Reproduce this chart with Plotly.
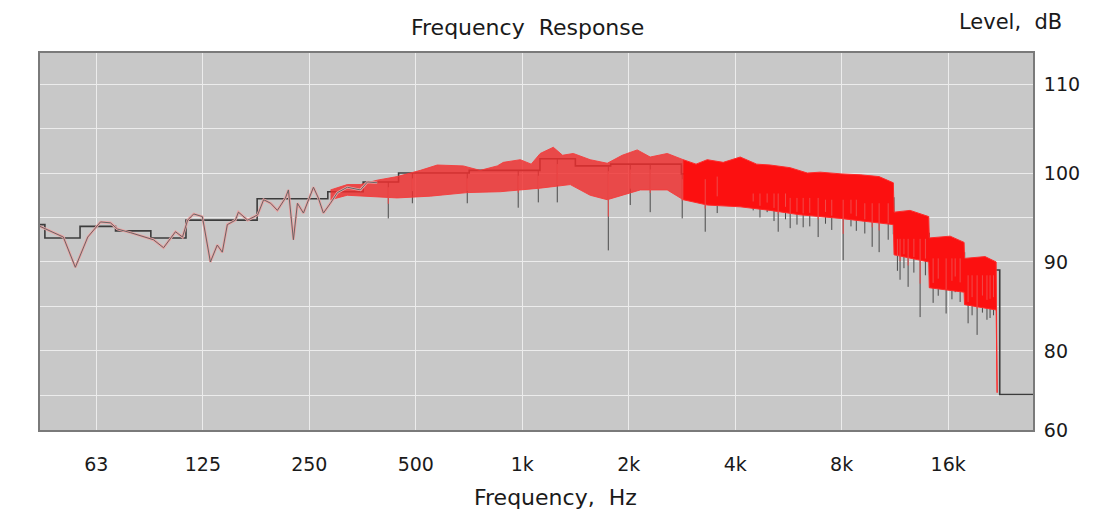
import numpy as np
import plotly.graph_objects as go

# ---------------- data ----------------
# 1/3-octave band edges (Hz) and band levels (dB) -> stepped dark line
band_edges_hz = [35.5, 44.7, 56.2, 70.8, 89.1, 112, 141, 178, 224, 282,
                 355, 447, 562, 708, 891, 1122, 1413, 1778, 2239, 2818,
                 3548, 4467, 5623, 7079, 8913, 11220, 14125, 17783, 22387, 28184]
band_levels_db = [94.2, 92.7, 94.0, 93.5, 92.7, 94.7, 94.7, 97.1, 97.1, 97.9,
                  99.0, 100.0, 100.0, 100.3, 100.3, 101.6, 100.8, 101.0, 101.0, 99.9,
                  100.2, 98.3, 97.8, 97.6, 97.2, 93.2, 91.0, 89.1, 75.1]

# low-frequency fine response (gray curve with pink points)
lf_hz = [43.3, 45.4, 50.4, 54.5, 59.1, 64.2, 68.5, 71.7, 78.0, 90.6,
         96.8, 104.6, 109.5, 113.2, 117.8, 124.6, 131.3, 137.3, 141.9, 146.6,
         154.5, 157.6, 167.4, 178.6, 185.7, 194.4, 203.1, 214.0, 218.2, 225.4,
         231.4, 240.6, 246.9, 256.8, 265.1, 274.0, 286.8, 300.2, 320.3, 348.7,
         365.0, 389.0]
lf_db = [94.0, 93.6, 92.8, 89.4, 92.8, 94.5, 94.4, 93.7, 93.3, 92.5,
         91.6, 93.4, 92.8, 94.7, 95.4, 95.1, 90.0, 91.9, 91.1, 94.2,
         94.7, 95.6, 94.7, 95.3, 97.0, 96.6, 95.8, 97.2, 98.1, 92.5,
         96.6, 95.5, 96.6, 98.4, 97.2, 95.5, 96.6, 97.8, 98.4, 98.1,
         99.0, 98.9]

# dense red band: upper and lower envelopes
upper_hz = [287, 320, 349, 389, 443, 515, 575, 681, 760, 850,
            884, 987, 1060, 1124, 1224, 1300, 1394, 1556, 1739, 1917,
            2114, 2300, 2570, 2852, 3100, 3334, 3700, 4133, 4600, 5024,
            5721, 6400, 6954, 8000, 9024, 10200, 11200, 11250, 12490, 14100,
            14150, 16210, 17750, 17800, 20350, 21870, 22010]
upper_db = [98.1, 98.7, 98.7, 99.2, 99.6, 100.3, 100.9, 100.8, 100.3, 100.8,
            101.2, 101.5, 101.0, 102.2, 102.9, 102.0, 102.2, 101.5, 101.1, 102.0,
            102.6, 101.8, 102.2, 101.5, 101.0, 101.5, 101.2, 101.8, 101.0, 100.9,
            100.6, 100.0, 100.1, 99.9, 99.8, 99.6, 98.9, 95.6, 95.8, 95.1,
            92.7, 92.9, 92.2, 90.4, 90.6, 90.0, 75.3]
lower_hz = [287, 320, 349, 389, 443, 550, 699, 867, 1124, 1367,
            1556, 1739, 2156, 2570, 2852, 3334, 4133, 5024, 6106, 7922,
            9631, 11200, 11250, 14100, 14150, 17750, 17800, 21870, 22010]
lower_db = [97.0, 97.5, 97.4, 97.3, 97.2, 97.4, 97.8, 97.9, 98.3, 98.7,
            97.5, 97.0, 98.1, 98.1, 97.0, 96.4, 96.2, 95.8, 95.3, 94.9,
            94.5, 94.2, 90.8, 90.0, 87.1, 86.6, 85.2, 84.6, 75.3]

# narrow dips reaching below the band
dip_hz = [418, 489, 699, 974, 1110, 1256, 1751, 2020, 2300, 2833,
          3291, 3558, 4497, 4700, 4925, 5150, 5292, 5550, 5721, 5980,
          6226, 6500, 6864, 7200, 7500, 8078, 8500, 8800, 9300, 9757,
          10210, 10830, 11500, 11700, 12000, 12330, 12800, 13330, 13800, 14510,
          15000, 15790, 16400, 16750, 17300, 18220, 18700, 19320, 20000, 20600,
          21020, 21500]
dip_db = [94.9, 96.6, 96.6, 96.1, 96.7, 96.7, 91.3, 96.4, 95.6, 94.9,
          93.4, 95.5, 95.8, 95.0, 95.6, 94.6, 93.4, 94.8, 93.8, 94.2,
          93.9, 94.0, 92.8, 94.3, 93.6, 90.2, 94.0, 93.5, 93.2, 91.7,
          91.1, 92.5, 89.0, 88.0, 89.3, 87.2, 88.8, 83.8, 88.5, 85.4,
          86.2, 84.2, 85.8, 86.6, 85.5, 83.1, 84.0, 81.8, 84.3, 83.5,
          83.7, 84.0]

x_tick_hz = [62.5, 125, 250, 500, 1000, 2000, 4000, 8000, 16000]
x_tick_text = ["63", "125", "250", "500", "1k", "2k", "4k", "8k", "16k"]
y_tick_db = [110, 100, 90, 80, 71.1]
y_tick_text = ["110", "100", "90", "80", "60"]
y_minor_db = [75, 85, 95, 105]

Y_RANGE = [71.1, 113.5]
X_RANGE_HZ = [43.3, 27800]
SPLIT_HZ = 2852  # band colour becomes denser above this frequency

# ---------------- figure ----------------
FONT = "DejaVu Sans"
fig = go.Figure()

# stepped 1/3-octave line (drawn under the band)
fig.add_trace(go.Scatter(x=band_edges_hz, y=band_levels_db + [band_levels_db[-1]],
                         mode="lines", line=dict(color="#3c3c3c", width=1.6, shape="hv"),
                         hoverinfo="skip"))

# dip spikes (dark gray), from the dip up to the band level
band_idx = np.searchsorted(band_edges_hz, dip_hz) - 1
dx, dy = [], []
for f, d, i in zip(dip_hz, dip_db, band_idx):
    dx += [f, f, None]
    dy += [d, band_levels_db[i], None]
fig.add_trace(go.Scatter(x=dx, y=dy, mode="lines",
                         line=dict(color="#4a4a4a", width=1), hoverinfo="skip"))


def band_poly(lo, hi):
    ux = [f for f in upper_hz if lo <= f <= hi]
    uy = [d for f, d in zip(upper_hz, upper_db) if lo <= f <= hi]
    lx = [f for f in lower_hz if lo <= f <= hi]
    ly = [d for f, d in zip(lower_hz, lower_db) if lo <= f <= hi]
    return ux + lx[::-1], uy + ly[::-1]


mx, my = band_poly(0, SPLIT_HZ)
fig.add_trace(go.Scatter(x=mx, y=my, mode="lines", fill="toself",
                         fillcolor="rgba(240,45,45,0.82)",
                         line=dict(color="rgba(245,60,60,0.9)", width=1), hoverinfo="skip"))
hx, hy = band_poly(SPLIT_HZ, 1e6)
fig.add_trace(go.Scatter(x=hx, y=hy, mode="lines", fill="toself",
                         fillcolor="#fc1010",
                         line=dict(color="#ff2a2a", width=1), hoverinfo="skip"))

# slightly lighter streaks inside the lower part of the band
rx, ry = [], []
for f, d, i in zip(dip_hz, dip_db, band_idx):
    rx += [f, f, None]
    ry += [d + 0.4 * (band_levels_db[i] - d), band_levels_db[i] - 0.6, None]
fig.add_trace(go.Scatter(x=rx, y=ry, mode="lines",
                         line=dict(color="#f04a4a", width=1), hoverinfo="skip"))

# low-frequency response: pink under, gray on top
fig.add_trace(go.Scatter(x=lf_hz, y=lf_db, mode="lines",
                         line=dict(color="#eea0a0", width=2.5), hoverinfo="skip"))
fig.add_trace(go.Scatter(x=lf_hz, y=lf_db, mode="lines",
                         line=dict(color="#666666", width=1), hoverinfo="skip"))

fig.update_layout(
    width=1095, height=515,
    margin=dict(l=40, r=62, t=53, b=85),
    paper_bgcolor="white", plot_bgcolor="#c8c8c8",
    showlegend=False,
    font=dict(family=FONT, size=19, color="#1a1a1a"),
)
fig.update_xaxes(
    type="log", range=[np.log10(X_RANGE_HZ[0]), np.log10(X_RANGE_HZ[1])],
    tickvals=x_tick_hz, ticktext=x_tick_text, ticks="",
    showgrid=True, gridcolor="#ececec", gridwidth=1,
    showline=True, linecolor="#7a7a7a", linewidth=2, mirror=True,
    zeroline=False, ticklabelstandoff=16,
    tickfont=dict(family=FONT, size=19, color="#1a1a1a"),
)
fig.update_yaxes(
    range=Y_RANGE, side="right",
    tickvals=y_tick_db, ticktext=y_tick_text, ticks="",
    showgrid=True, gridcolor="#ececec", gridwidth=1,
    minor=dict(tickvals=y_minor_db, showgrid=True, gridcolor="#ececec", gridwidth=1),
    showline=True, linecolor="#7a7a7a", linewidth=2, mirror=True,
    zeroline=False, ticklabelstandoff=5,
    tickfont=dict(family=FONT, size=19, color="#1a1a1a"),
)

fig.add_annotation(text="Frequency  Response", xref="paper", yref="paper",
                   x=(527 - 40) / 993, y=1 + (53 - 27) / 377, showarrow=False,
                   xanchor="center", yanchor="middle",
                   font=dict(family=FONT, size=22, color="#1a1a1a"))
fig.add_annotation(text="Level,  dB", xref="paper", yref="paper",
                   x=(1010 - 40) / 993, y=1 + (53 - 22) / 377, showarrow=False,
                   xanchor="center", yanchor="middle",
                   font=dict(family=FONT, size=21, color="#1a1a1a"))
fig.add_annotation(text="Frequency,  Hz", xref="paper", yref="paper",
                   x=(555 - 40) / 993, y=-(497 - 430) / 377, showarrow=False,
                   xanchor="center", yanchor="middle",
                   font=dict(family=FONT, size=22, color="#1a1a1a"))

fig.write_html("out.html")
